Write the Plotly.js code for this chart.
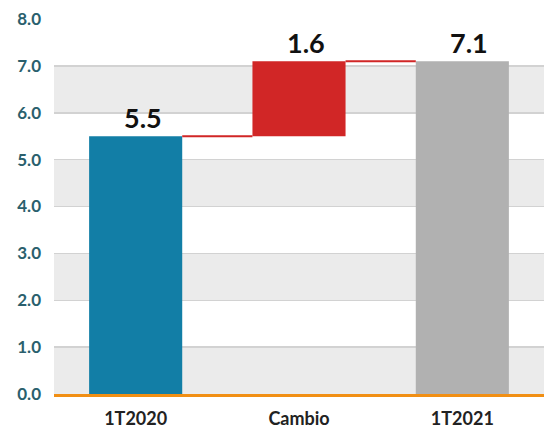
<!DOCTYPE html>
<html><head><meta charset="utf-8">
<script src="https://cdn.plot.ly/plotly-3.0.1.min.js"></script>
<style>html,body{margin:0;padding:0;background:#fff}#chart{width:544px;height:428px}</style>
</head><body><div id="chart"></div>
<script>
const categories = ['1T2020', 'Cambio', '1T2021'];
const values = [5.5, 1.6, 7.1];
const measures = ['absolute', 'relative', 'total'];
const barColors = ['#127ea6', '#d12626', '#b1b1b1'];
const yTicks = [0, 1, 2, 3, 4, 5, 6, 7, 8];
const yTickLabels = ['0.0','1.0','2.0','3.0','4.0','5.0','6.0','7.0','8.0'];

const barWidth = 0.57;
const xIdx = categories.map((c, i) => i);
const bases = [], tops = [];
let running = 0;
values.forEach((v, i) => {
  if (measures[i] === 'relative') { bases.push(running); running += v; }
  else { bases.push(0); running = v; }
  tops.push(bases[i] + values[i]);
});

const traces = [{
  type: 'bar', x: xIdx, y: values, base: bases, width: barWidth,
  marker: {color: barColors}, hoverinfo: 'skip', showlegend: false
}];
for (let i = 0; i < values.length - 1; i++) {
  const lvl = tops[i];
  traces.push({type: 'scatter', mode: 'lines',
    x: [xIdx[i] + barWidth / 2, xIdx[i + 1] - barWidth / 2], y: [lvl, lvl],
    line: {color: '#d12626', width: 2}, hoverinfo: 'skip', showlegend: false});
}

const shapes = [];
for (let k = 0; k < yTicks.length - 1; k += 2) {
  shapes.push({type: 'rect', xref: 'paper', yref: 'y', x0: 0, x1: 1,
    y0: yTicks[k], y1: yTicks[k + 1], fillcolor: '#ebebeb', line: {width: 0}, layer: 'below'});
}

const annotations = values.map((v, i) => ({
  x: xIdx[i], y: tops[i], xref: 'x', yref: 'y', text: '<b>' + v.toFixed(1) + '</b>',
  showarrow: false, yanchor: 'bottom', xshift: 7, yshift: 0,
  font: {family: 'Lato', size: 27, color: '#111'}
}));

const layout = {
  width: 544, height: 428,
  margin: {l: 54, r: 0, t: 19, b: 34},
  paper_bgcolor: '#fff', plot_bgcolor: 'rgba(0,0,0,0)',
  showlegend: false,
  xaxis: {range: [-0.5, 2.5], tickvals: xIdx, ticktext: categories, showgrid: false,
    zeroline: false, showline: true, linecolor: '#f18f14', linewidth: 2.5, ticks: '', fixedrange: true,
    ticklabelstandoff: 7,
    tickfont: {family: 'Lato', size: 18, color: '#222', weight: 'bold'}},
  yaxis: {range: [0, 8], tickvals: yTicks, ticktext: yTickLabels, showgrid: true,
    gridcolor: '#d2d2d2', gridwidth: 1.5, zeroline: false, showline: false, ticks: '',
    ticklabelstandoff: 12,
    tickfont: {family: 'Lato', size: 17, color: '#2a5f6d', weight: 'bold'}},
  shapes: shapes, annotations: annotations, bargap: 0.43
};
Plotly.newPlot('chart', traces, layout, {displayModeBar: false, staticPlot: true});
</script></body></html>
